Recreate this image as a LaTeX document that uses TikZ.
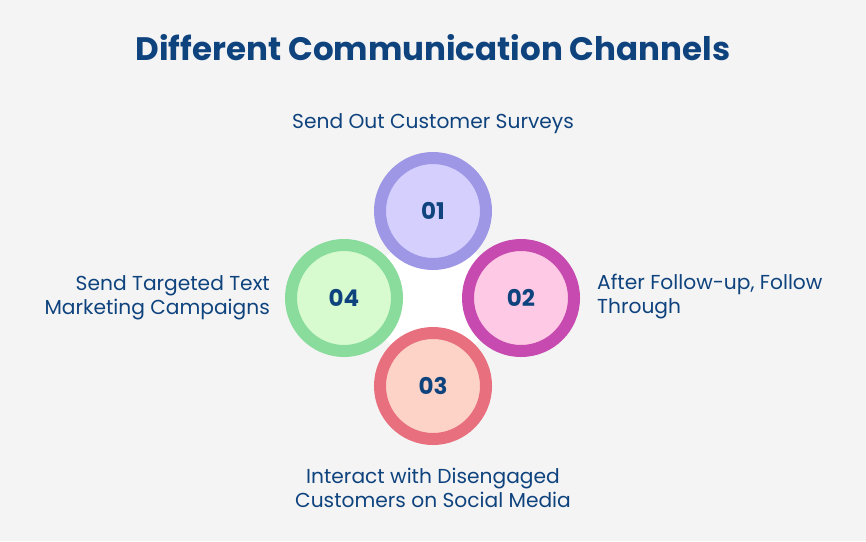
\documentclass[tikz,border=0pt]{standalone}
\usepackage{fontspec}
\setmainfont{Poppins}
\begin{document}
\begin{tikzpicture}[x=1pt,y=-1pt,
  ring/.style={circle,minimum size=106pt,line width=12pt,inner sep=0pt,font=\fontsize{23}{23}\selectfont\bfseries,text=txt},
  lbl/.style={text=txt,font=\fontsize{20.2}{24}\selectfont,inner sep=0pt}]
\definecolor{bg}{HTML}{F4F4F4}
\definecolor{txt}{HTML}{0F437E}
\definecolor{rA}{HTML}{9D97E6}\definecolor{fA}{HTML}{D4CFFD}
\definecolor{rB}{HTML}{C64AAF}\definecolor{fB}{HTML}{FDC9E4}
\definecolor{rC}{HTML}{E8707E}\definecolor{fC}{HTML}{FDD3C7}
\definecolor{rD}{HTML}{8ADC9C}\definecolor{fD}{HTML}{D7FBCF}
\fill[bg] (0,0) rectangle (866,541);
\useasboundingbox (0,0) rectangle (866,541);
\node[text=txt,font=\fontsize{32.5}{32.5}\selectfont\bfseries] (title) at (433,48) {Different Communication Channels};
\fill[white] (433,211) -- (521,298) -- (433,386) -- (344,298) -- cycle;
\node[ring,draw=rA,fill=fA] (c1) at (433,211) {01};
\node[ring,draw=rB,fill=fB] (c2) at (521,298) {02};
\node[ring,draw=rC,fill=fC] (c3) at (433,386) {03};
\node[ring,draw=rD,fill=fD] (c4) at (344,298) {04};
\node[lbl] (l1) at (433,124) {Send Out Customer Surveys};
\node[lbl,anchor=east,align=right] (l4) at (270,297.5) {Send Targeted Text\\Marketing Campaigns};
\node[lbl,anchor=west,align=left] (l2) at (597,296.5) {After Follow-up, Follow\\Through};
\node[lbl,align=center] (l3) at (433,488) {Interact with Disengaged\\Customers on Social Media};
\end{tikzpicture}
\end{document}
